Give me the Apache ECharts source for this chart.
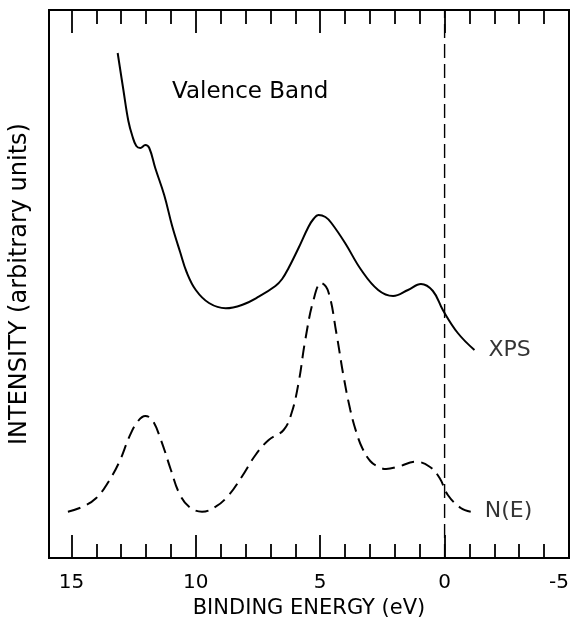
<!DOCTYPE html>
<html>
<head>
<meta charset="utf-8">
<script src="https://cdn.jsdelivr.net/npm/echarts@6/dist/echarts.min.js"></script>
<style>html,body{margin:0;padding:0;background:#fff}#c{width:574px;height:619px}</style>
</head>
<body>
<div id="c"></div>
<script>
// Binding energy (eV) and intensity (arbitrary units)
var xpsEnergy = [13.14, 12.91, 12.71, 12.55, 12.39, 12.23, 12.03, 11.87, 11.63, 11.27, 10.95, 10.63, 10.37, 10.00, 9.47, 8.80, 8.15, 7.47, 6.80, 6.53, 6.27, 5.87, 5.47, 5.27, 5.07, 4.79, 4.55, 4.00, 3.35, 2.67, 2.07, 1.47, 0.95, 0.47, 0.07, -0.53, -1.20];
var xpsIntensity = [505, 468, 437, 422, 412, 410, 413, 410, 390, 363, 332, 306, 286, 268, 255, 249.7, 253, 261.3, 272, 279, 290, 310, 331.3, 339, 343, 341, 335, 315, 288, 268, 262, 268, 274, 267, 248, 225, 208];
var neEnergy = [15.14, 14.54, 14.00, 13.54, 13.07, 12.67, 12.34, 12.03, 11.75, 11.40, 11.00, 10.67, 10.27, 9.75, 9.20, 8.67, 8.15, 7.60, 7.07, 6.47, 6.15, 5.87, 5.60, 5.27, 4.96, 4.67, 4.35, 4.07, 3.79, 3.55, 3.31, 2.99, 2.67, 2.35, 1.87, 1.15, 0.60, 0.20, -0.13, -0.65, -1.05];
var neIntensity = [46.3, 51.3, 60, 75, 96.3, 121.3, 136.3, 142, 138, 118, 88, 65, 51.3, 46.3, 51.3, 63, 81.3, 103, 118, 128, 145, 175, 218, 258, 275, 266, 225, 183, 148, 126, 110, 97, 91.3, 89, 91.3, 96.3, 91.3, 80, 63, 50, 46.3];
var fermiLevel = [0, 0];
var fermiSpan = [0, 548];
var curveNames = ['XPS', 'N(E)'];

function pairs(xs, ys) { return xs.map(function (x, i) { return [x, ys[i]]; }); }
var xpsData = pairs(xpsEnergy, xpsIntensity);
var neData = pairs(neEnergy, neIntensity);

var FONT = 'DejaVu Sans';
var chart = echarts.init(document.getElementById('c'), null, {renderer: 'canvas'});
var tickCommon = {
  type: 'value', min: -5, max: 15.9, interval: 5, inverse: true,
  axisLine: {show: false}, splitLine: {show: false},
  axisTick: {show: true, inside: true, length: 23, lineStyle: {color: '#000', width: 1.8}},
  minorTick: {show: true, splitNumber: 5, length: 14, lineStyle: {color: '#000', width: 1.8}},
  minorSplitLine: {show: false}
};
chart.setOption({
  animation: false,
  backgroundColor: '#fff',
  title: {
    text: 'Valence Band', left: 167, top: 76,
    textStyle: {fontFamily: FONT, fontSize: 23, fontWeight: 'normal', color: '#000'}
  },
  grid: {left: 49, right: 5, top: 10, bottom: 61, containLabel: false, outerBoundsMode: 'none',
    show: true, borderColor: '#000', borderWidth: 2, backgroundColor: 'transparent'},
  xAxis: [
    Object.assign({}, tickCommon, {
      position: 'bottom',
      name: 'BINDING ENERGY (eV)', nameLocation: 'middle', nameGap: 39,
      nameTextStyle: {fontFamily: FONT, fontSize: 21, color: '#000'},
      axisLabel: {show: true, margin: 15, fontFamily: FONT, fontSize: 20, color: '#000', alignMinLabel: 'right'}
    }),
    Object.assign({}, tickCommon, {
      position: 'top', axisLabel: {show: false}
    })
  ],
  yAxis: {
    type: 'value', min: 0, max: 548,
    name: 'INTENSITY (arbitrary units)', nameLocation: 'middle', nameGap: 17,
    nameTextStyle: {fontFamily: FONT, fontSize: 24, color: '#000'},
    axisLine: {show: false}, axisTick: {show: false}, axisLabel: {show: false}, splitLine: {show: false}
  },
  series: [
    {
      type: 'line', name: curveNames[0], data: xpsData, smooth: 0.4, showSymbol: false,
      lineStyle: {color: '#000', width: 2}
    },
    {
      type: 'line', name: curveNames[1], data: neData, smooth: 0.4, showSymbol: false,
      lineStyle: {color: '#000', width: 2, type: [13, 7]}
    },
    {
      type: 'line', name: 'E_F', data: pairs(fermiLevel, fermiSpan), showSymbol: false,
      lineStyle: {color: '#000', width: 1.4, type: [14, 6]}
    },
    {
      type: 'scatter', symbolSize: 0, silent: true,
      data: [xpsData[xpsData.length - 1], neData[neData.length - 1]],
      label: {
        show: true, position: 'right', distance: 14,
        formatter: function (p) { return curveNames[p.dataIndex]; },
        fontFamily: FONT, fontSize: 22, color: '#000'
      }
    }
  ]
});
</script>
</body>
</html>
